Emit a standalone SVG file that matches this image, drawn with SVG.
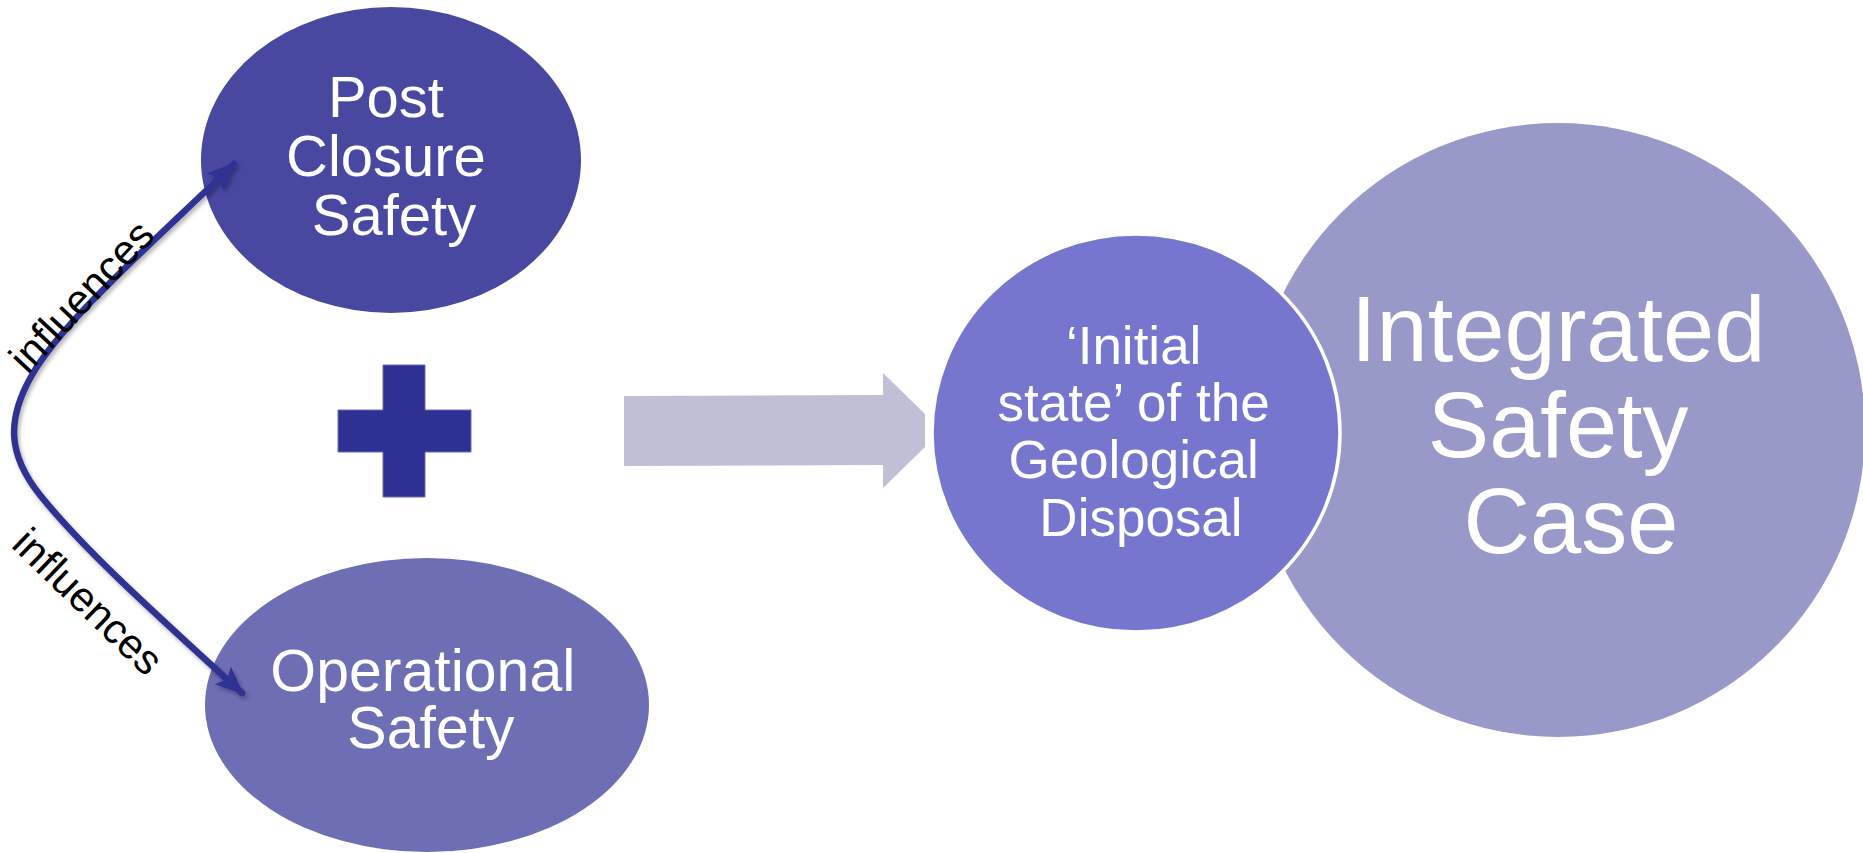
<svg xmlns="http://www.w3.org/2000/svg" width="1863" height="853" viewBox="0 0 1863 853">
  <style>
    .lbl { font-family: "Liberation Sans", Arial, sans-serif; fill: #ffffff; text-anchor: middle; }
    .infl { font-family: "Liberation Sans", Arial, sans-serif; fill: #000000; font-size: 42px; text-anchor: middle; }
    .conn { fill: none; stroke: #2E3192; stroke-width: 6.5; stroke-linecap: round; }
  </style>
  <defs>
    <marker id="head" markerUnits="userSpaceOnUse" markerWidth="30" markerHeight="30" viewBox="0 0 30 30" refX="26" refY="15" orient="auto-start-reverse">
      <path d="M0,3 L28,15 L0,27 L6,15 Z" fill="#2E3192"/>
    </marker>
    <filter id="shadow" x="-20%" y="-20%" width="140%" height="140%">
      <feDropShadow dx="2" dy="3" stdDeviation="2" flood-color="#000000" flood-opacity="0.3"/>
    </filter>
  </defs>

  <rect width="1863" height="853" fill="#ffffff"/>

  <!-- outcome: integrated safety case -->
  <g id="integrated-safety-case">
    <circle cx="1558" cy="430" r="307" fill="#9999C9"/>
    <text class="lbl" font-size="92">
      <tspan x="1571" y="361">Integrated</tspan>
      <tspan x="1571" y="457">Safety</tspan>
      <tspan x="1571" y="553">Case</tspan>
    </text>
  </g>

  <!-- initial state of the disposal facility -->
  <g id="initial-state">
    <ellipse cx="1136" cy="433" rx="204" ry="199" fill="#7676CE" stroke="#ffffff" stroke-width="3.5"/>
    <rect x="986" y="290" width="2" height="4" fill="#ffffff"/>
    <rect x="986" y="572" width="2" height="4" fill="#ffffff"/>
    <text class="lbl" font-size="53">
      <tspan x="1141" y="364">‘Initial</tspan>
      <tspan x="1141" y="421">state’ of the</tspan>
      <tspan x="1141" y="478">Geological</tspan>
      <tspan x="1141" y="536">Disposal</tspan>
    </text>
  </g>

  <!-- block arrow leading into the initial state -->
  <g id="block-arrow">
    <polygon points="624,396 883,395 883,373 925,414 925,447 883,488 883,465 624,466" fill="#BFBFD6"/>
  </g>

  <!-- post-closure safety -->
  <g id="post-closure-safety">
    <ellipse cx="391" cy="160" rx="190" ry="153" fill="#4848A1"/>
    <text class="lbl" font-size="58">
      <tspan x="394" y="117">Post</tspan>
      <tspan x="394" y="176">Closure</tspan>
      <tspan x="394" y="235">Safety</tspan>
    </text>
  </g>

  <!-- plus sign -->
  <g id="plus">
    <path d="M383,365 H425 V410 H471 V452 H425 V497 H383 V452 H338 V410 H383 Z" fill="#2F3192" stroke="#6A6AB8" stroke-width="1"/>
  </g>

  <!-- operational safety -->
  <g id="operational-safety">
    <ellipse cx="427" cy="705" rx="222" ry="147" fill="#6E6EB4"/>
    <text class="lbl" font-size="59">
      <tspan x="431" y="691">Operational</tspan>
      <tspan x="431" y="748">Safety</tspan>
    </text>
  </g>

  <!-- two-way "influences" connector -->
  <g id="connectors">
    <path class="conn" filter="url(#shadow)" marker-start="url(#head)" marker-end="url(#head)"
          d="M234,164 C150,245 62,322 32,375 C6,420 8,455 40,495 C80,545 140,600 242,693"/>
    <text class="infl" transform="translate(92,306) rotate(-47)">influences</text>
    <text class="infl" transform="translate(78,612) rotate(44)">influences</text>
  </g>
</svg>
